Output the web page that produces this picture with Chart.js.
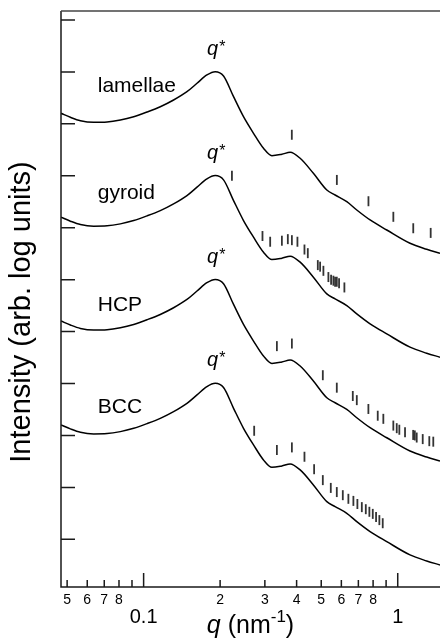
<!DOCTYPE html>
<html>
<head>
<meta charset="utf-8">
<script src="https://cdn.jsdelivr.net/npm/chart.js@4/dist/chart.umd.min.js"></script>
<style>
  html, body { margin: 0; padding: 0; background: #fff; }
  canvas { display: block; }
</style>
</head>
<body>
<canvas id="saxs" width="440" height="642"></canvas>
<script>
// Scattering vector q (nm^-1) of the computed profile
const qProfile = [0.0473, 0.0515, 0.0564, 0.0636, 0.0718, 0.0810, 0.0914, 0.1031, 0.1163, 0.1312,
  0.1481, 0.1622, 0.1775, 0.1913, 0.2063, 0.2259, 0.2472, 0.2707, 0.2963, 0.3197,
  0.3499, 0.3773, 0.4130, 0.4657, 0.5260, 0.5670, 0.6303, 0.6900, 0.7784, 0.9053,
  1.1177, 1.3002, 1.4667];
// log10 intensity of the top profile (arbitrary units)
const logIProfile = [8.203, 8.126, 8.061, 8.030, 8.036, 8.074, 8.138, 8.228, 8.330, 8.459,
  8.619, 8.781, 8.941, 9.004, 8.922, 8.523, 8.138, 7.818, 7.529, 7.387,
  7.414, 7.452, 7.337, 7.048, 6.726, 6.630, 6.501, 6.341, 6.149, 5.956,
  5.700, 5.584, 5.507];

// Structures, stacked downward by a fixed number of decades
const structures = ['lamellae', 'gyroid', 'HCP', 'BCC'];
const shifts = [0, -2, -4, -6];
// Baseline of each structure name (log units)
const nameLevels = [8.61, 6.55, 4.40, 2.43];

// Primary peak position
const qStar = 0.1913;
const qStarLevel = [9.33, 7.33, 5.33, 3.33];

// Expected Bragg reflections: position and marker level
const lamellaeQ = [0.383, 0.576, 0.767, 0.961, 1.151, 1.348];
const lamellaeLevel = [7.79, 6.92, 6.51, 6.21, 5.99, 5.90];

const gyroidQ = [0.2226, 0.2936, 0.3148, 0.3500, 0.3694, 0.3832, 0.4030, 0.4295, 0.4427, 0.4847,
  0.4950, 0.5099, 0.5335, 0.5467, 0.5582, 0.5668, 0.5757, 0.5877, 0.6167];
const gyroidLevel = [7.00, 5.84, 5.73, 5.75, 5.78, 5.76, 5.73, 5.58, 5.51, 5.28,
  5.25, 5.17, 5.05, 5.00, 4.98, 4.96, 4.96, 4.93, 4.85];

const hcpQ = [0.3345, 0.3832, 0.5072, 0.5757, 0.6655, 0.6901, 0.7665, 0.8343, 0.8777, 0.9609,
  0.9910, 1.0146, 1.0684, 1.150, 1.1676, 1.1876, 1.2541, 1.3312, 1.3801];
const hcpLevel = [3.72, 3.77, 3.16, 2.92, 2.76, 2.68, 2.51, 2.38, 2.32, 2.19,
  2.14, 2.11, 2.06, 2.01, 2.00, 1.96, 1.93, 1.89, 1.88];

const bccQ = [0.2723, 0.3345, 0.3832, 0.4295, 0.4688, 0.5072, 0.5452, 0.5757, 0.6079, 0.6394,
  0.6691, 0.6938, 0.7222, 0.7487, 0.7734, 0.7976, 0.8218, 0.8467, 0.8729];
const bccLevel = [2.09, 1.72, 1.77, 1.59, 1.35, 1.14, 0.99, 0.91, 0.85, 0.78,
  0.74, 0.68, 0.62, 0.58, 0.53, 0.49, 0.43, 0.37, 0.31];

// Axis ticks
const yTicks = [0, 1, 2, 3, 4, 5, 6, 7, 8, 9, 10];
const xMinorTicks = [0.05, 0.06, 0.07, 0.08, 0.09, 0.2, 0.3, 0.4, 0.5, 0.6, 0.7, 0.8, 0.9];
const xMinorLabels = ['5', '6', '7', '8', '', '2', '3', '4', '5', '6', '7', '8', ''];
const xMajorTicks = [0.1, 1];
const xMajorLabels = ['0.1', '1'];

const FONT = "'Liberation Sans', Arial, Helvetica, sans-serif";

const curveSets = structures.map((name, i) => ({
  label: name,
  data: qProfile.map((q, k) => ({ x: q, y: logIProfile[k] + shifts[i] })),
  borderColor: '#000',
  borderWidth: 1.5,
  pointRadius: 0,
  cubicInterpolationMode: 'monotone',
  fill: false
}));

function markerSet(name, qs, levels) {
  return {
    label: name + ' reflections',
    data: qs.map((q, k) => ({ x: q, y: levels[k] })),
    showLine: false,
    pointStyle: 'line',
    pointRotation: 90,
    pointRadius: 5,
    pointBorderWidth: 1.8,
    pointBorderColor: '#333',
    pointBackgroundColor: '#333'
  };
}

const markerSets = [
  markerSet('lamellae', lamellaeQ, lamellaeLevel),
  markerSet('gyroid', gyroidQ, gyroidLevel),
  markerSet('HCP', hcpQ, hcpLevel),
  markerSet('BCC', bccQ, bccLevel)
];

// Frame, inward ticks and all annotation text
const framePlugin = {
  id: 'frame',
  afterDraw(chart) {
    const { ctx, chartArea: a } = chart;
    const x = chart.scales.x, y = chart.scales.y;
    ctx.save();

    // axes
    ctx.strokeStyle = '#1a1a1a';
    ctx.lineWidth = 1.5;
    ctx.beginPath();
    ctx.moveTo(a.left, a.top);
    ctx.lineTo(a.left, a.bottom);
    ctx.lineTo(a.right, a.bottom);
    ctx.stroke();
    ctx.strokeStyle = '#444';
    ctx.beginPath();
    ctx.moveTo(a.left, a.top);
    ctx.lineTo(a.right, a.top);
    ctx.stroke();

    // y ticks, pointing into the plot
    ctx.strokeStyle = '#1a1a1a';
    ctx.beginPath();
    yTicks.forEach(v => {
      const py = y.getPixelForValue(v);
      ctx.moveTo(a.left, py);
      ctx.lineTo(a.left + 14, py);
    });
    ctx.stroke();

    // x ticks, pointing into the plot
    ctx.beginPath();
    xMinorTicks.forEach(v => {
      const px = x.getPixelForValue(v);
      ctx.moveTo(px, a.bottom);
      ctx.lineTo(px, a.bottom - 7);
    });
    xMajorTicks.forEach(v => {
      const px = x.getPixelForValue(v);
      ctx.moveTo(px, a.bottom);
      ctx.lineTo(px, a.bottom - 14);
    });
    ctx.stroke();

    // x tick labels
    ctx.fillStyle = '#000';
    ctx.textAlign = 'center';
    ctx.textBaseline = 'alphabetic';
    ctx.font = '14px ' + FONT;
    xMinorTicks.forEach((v, i) => {
      if (xMinorLabels[i]) ctx.fillText(xMinorLabels[i], x.getPixelForValue(v), a.bottom + 17);
    });
    ctx.font = '20px ' + FONT;
    xMajorTicks.forEach((v, i) => {
      ctx.fillText(xMajorLabels[i], x.getPixelForValue(v), a.bottom + 36);
    });

    // x title: q (nm^-1)
    const base = a.bottom + 46;
    const parts = [
      { t: 'q', f: 'italic 25px ' + FONT, dy: 0 },
      { t: ' (nm', f: '25px ' + FONT, dy: 0 },
      { t: '-1', f: '17px ' + FONT, dy: -11 },
      { t: ')', f: '25px ' + FONT, dy: 0 }
    ];
    let total = 0;
    parts.forEach(p => { ctx.font = p.f; p.w = ctx.measureText(p.t).width; total += p.w; });
    let cx = (a.left + a.right) / 2 - total / 2;
    ctx.textAlign = 'left';
    parts.forEach(p => { ctx.font = p.f; ctx.fillText(p.t, cx, base + p.dy); cx += p.w; });

    // y title
    ctx.save();
    ctx.translate(22, (a.top + a.bottom) / 2 + 13);
    ctx.rotate(-Math.PI / 2);
    ctx.textAlign = 'center';
    ctx.textBaseline = 'middle';
    ctx.font = '29px ' + FONT;
    ctx.fillText('Intensity (arb. log units)', 0, 0);
    ctx.restore();

    // structure names
    ctx.textAlign = 'left';
    ctx.textBaseline = 'alphabetic';
    ctx.font = '21px ' + FONT;
    structures.forEach((name, i) => {
      ctx.fillText(name, x.getPixelForValue(0.066), y.getPixelForValue(nameLevels[i]));
    });

    // q* above each primary peak
    const px = x.getPixelForValue(qStar);
    qStarLevel.forEach(lv => {
      const py = y.getPixelForValue(lv);
      ctx.font = 'italic 20px ' + FONT;
      ctx.textAlign = 'right';
      ctx.fillText('q', px + 3, py);
      ctx.font = '16px ' + FONT;
      ctx.textAlign = 'left';
      ctx.fillText('*', px + 4, py - 3);
    });

    ctx.restore();
  }
};

new Chart(document.getElementById('saxs'), {
  type: 'line',
  data: { datasets: [...curveSets, ...markerSets] },
  options: {
    responsive: false,
    animation: false,
    devicePixelRatio: 1,
    layout: { autoPadding: false, padding: { top: 11, left: 0, right: 0, bottom: 0 } },
    plugins: { legend: { display: false }, tooltip: { enabled: false } },
    scales: {
      x: {
        type: 'logarithmic',
        min: 0.0473,
        max: 1.4667,
        bounds: 'data',
        grid: { display: false },
        border: { display: false },
        ticks: { display: false },
        afterFit: s => { s.height = 55; s.paddingLeft = 0; s.paddingRight = 0; }
      },
      y: {
        type: 'linear',
        min: -0.918,
        max: 10.173,
        bounds: 'data',
        grid: { display: false },
        border: { display: false },
        ticks: { display: false },
        afterFit: s => { s.width = 61; s.paddingTop = 0; s.paddingBottom = 0; }
      }
    }
  },
  plugins: [framePlugin]
});
</script>
</body>
</html>
